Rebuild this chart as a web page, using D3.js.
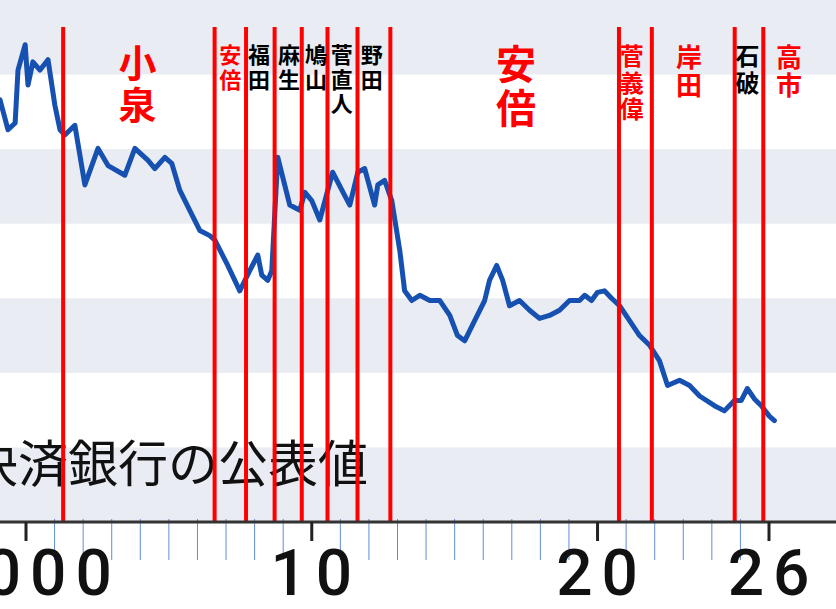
<!DOCTYPE html>
<html><head><meta charset="utf-8">
<script src="https://cdn.jsdelivr.net/npm/d3@7"></script>
<style>body{margin:0;background:#fff}svg{display:block}</style>
</head><body><div id="chart"></div>
<script>
// yearly positions and index values
const years = [1999.09,1999.37,1999.62,1999.72,1999.97,2000.07,2000.24,2000.49,2000.77,2001.01,2001.19,2001.36,2001.71,2002.06,2002.52,2002.87,2003.46,2003.81,2004.27,2004.51,2004.86,2005.10,2005.38,2005.73,2006.08,2006.43,2006.61,2007.06,2007.48,2007.83,2008.11,2008.25,2008.46,2008.60,2008.81,2009.23,2009.58,2009.76,2010.00,2010.28,2010.73,2011.15,2011.33,2011.61,2011.85,2012.20,2012.31,2012.55,2012.80,2013.08,2013.25,2013.50,2013.78,2014.13,2014.48,2014.83,2015.10,2015.35,2015.70,2016.05,2016.22,2016.47,2016.68,2016.92,2017.27,2017.62,2017.97,2018.32,2018.67,2019.02,2019.37,2019.55,2019.79,2020.00,2020.24,2020.49,2020.77,2021.12,2021.47,2021.82,2022.17,2022.45,2022.87,2023.22,2023.57,2024.09,2024.44,2024.79,2025.03,2025.24,2025.49,2025.73,2026.01,2026.19];
const values = [146.6,142.6,143.5,150.6,154.0,148.6,151.7,150.6,152.0,145.9,142.6,141.9,143.2,135.2,140.1,137.8,136.5,140.1,138.5,137.4,138.9,138.1,134.5,131.8,129.1,128.4,127.8,124.4,121.0,123.7,125.8,123.1,122.4,123.7,138.9,132.5,131.8,134.2,133.1,130.5,136.9,133.8,132.5,136.9,137.4,132.5,135.2,135.8,133.1,126.4,121.0,119.7,120.4,119.7,119.7,117.7,115.0,114.3,117.0,119.7,122.4,124.4,122.4,119.0,119.7,118.4,117.3,117.7,118.4,119.7,119.7,120.4,119.7,120.8,121.0,120.0,119.0,117.0,115.0,113.7,111.6,108.3,109.0,108.3,106.9,105.6,104.9,106.3,106.3,107.9,106.5,105.6,104.2,103.6];

// prime minister changes
const pmStarts = [2001.3, 2006.6, 2007.7, 2008.7, 2009.65, 2010.55, 2011.6, 2012.75, 2020.75, 2021.9, 2024.8, 2025.8];
const pmNames = ["小泉","安倍","福田","麻生","鳩山","菅直人","野田","安倍","菅義偉","岸田","石破","高市"];
const pmLabelYears = [2003.9, 2007.15, 2008.15, 2009.2, 2010.15, 2011.05, 2012.1, 2017.15, 2021.2, 2023.2, 2025.25, 2026.7];
const pmColors = ["red","red","black","black","black","black","black","red","red","red","black","red"];
const pmSizes = [38, 22, 22, 22, 22, 22, 22, 40, 24, 26, 24, 26];

const majorTicks = [2000, 2010, 2020, 2026];
const majorLabels = ["2000", "10", "20", "26"];
const minorTicks = d3.range(2001, 2026).filter(d => d !== 2010 && d !== 2020);

const W = 836, H = 609, axisY = 522;
const x = d3.scaleLinear().domain([2000, 2026]).range([26, 769]);
const y = d3.scaleLinear().domain([90, 160]).range([axisY, 0]);

const svg = d3.select("#chart").append("svg").attr("width", W).attr("height", H);

// bands
const bands = [160, 140, 120, 100];
svg.selectAll("rect.band").data(bands).enter().append("rect")
  .attr("x", 0).attr("width", W)
  .attr("y", d => y(d)).attr("height", d => y(d - 10) - y(d))
  .attr("fill", "#e9ecf2");

// source note
svg.append("text").attr("x", -32).attr("y", 482)
  .attr("font-family", "'Noto Sans CJK JP'").attr("font-weight", 400)
  .attr("font-size", 50).attr("fill", "#111").text("決済銀行の公表値");

// minor ticks
svg.selectAll("line.minor").data(minorTicks).enter().append("line")
  .attr("x1", d => x(d)).attr("x2", d => x(d))
  .attr("y1", axisY - 3).attr("y2", 560)
  .attr("stroke", "#3a6fd0").attr("stroke-width", 0.8);

// line
const line = d3.line().x((d, i) => x(years[i])).y(d => y(d));
svg.append("path").datum(values)
  .attr("d", line).attr("fill", "none")
  .attr("stroke", "#1650b0").attr("stroke-width", 5)
  .attr("stroke-linejoin", "round").attr("stroke-linecap", "round");

// pm lines
svg.selectAll("line.pm").data(pmStarts).enter().append("line")
  .attr("x1", d => x(d)).attr("x2", d => x(d))
  .attr("y1", 27).attr("y2", axisY)
  .attr("stroke", "#ff0000").attr("stroke-width", 4);

// pm labels (vertical)
pmNames.forEach((name, i) => {
  const t = svg.append("text")
    .attr("font-family", "'Noto Sans CJK JP'").attr("font-weight", 700)
    .attr("font-size", pmSizes[i]).attr("fill", pmColors[i])
    .attr("text-anchor", "middle");
  name.split("").forEach((ch, j) => {
    t.append("tspan").attr("x", x(pmLabelYears[i]))
      .attr("y", 44 + pmSizes[i] * 0.88 + j * pmSizes[i] * 1.1)
      .text(ch);
  });
});

// axis
svg.append("line").attr("x1", 0).attr("x2", W).attr("y1", axisY).attr("y2", axisY)
  .attr("stroke", "#333").attr("stroke-width", 3);
svg.selectAll("line.major").data(majorTicks).enter().append("line")
  .attr("x1", d => x(d)).attr("x2", d => x(d))
  .attr("y1", axisY).attr("y2", 541)
  .attr("stroke", "#222").attr("stroke-width", 3);
svg.selectAll("text.tick").data(majorTicks).enter().append("text")
  .attr("x", d => x(d) + 4).attr("y", 595)
  .attr("text-anchor", "middle")
  .attr("font-family", "Roboto").attr("font-weight", 500)
  .attr("font-size", 64).attr("letter-spacing", 9).attr("fill", "#111")
  .text((d, i) => majorLabels[i]);
</script>
</body></html>
